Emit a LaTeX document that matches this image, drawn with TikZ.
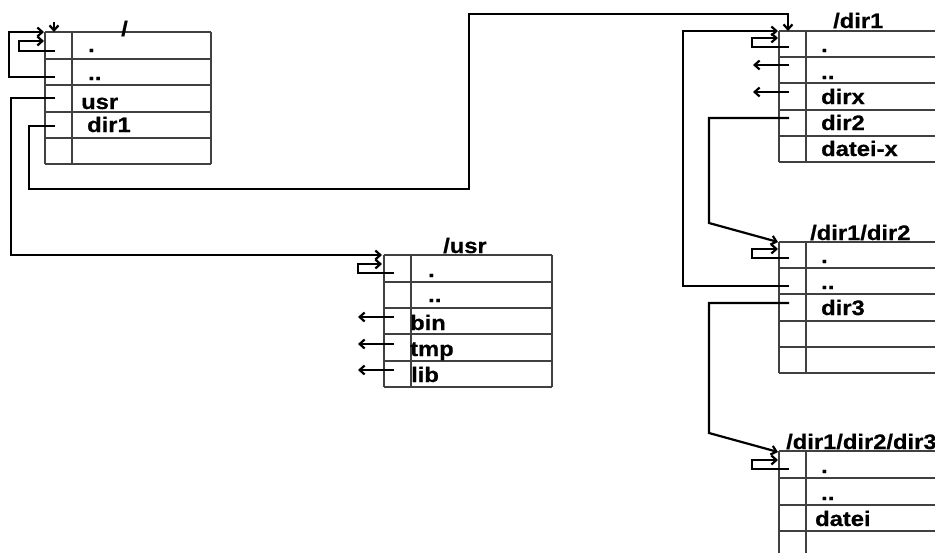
\documentclass[tikz,border=0pt]{standalone}
\usepackage{fontspec}
\setmainfont[BoldFeatures={FakeBold=0.6}]{Liberation Sans}
\usetikzlibrary{arrows.meta}
% horizontally widened label text
\newcommand{\widelabel}[1]{\scalebox{1.13}[1]{#1}}
% directory table: left, column, right, top, bottom, row lines
\newcommand{\dirtable}[6]{%
  \foreach \yy in {#6} {\draw[grid] (#1,\yy) -- (#3,\yy);}
  \draw[grid] (#1,#4) -- (#1,#5);
  \draw[grid] (#2,#4) -- (#2,#5);
  \draw[grid] (#3,#4) -- (#3,#5);
}
\begin{document}
\begin{tikzpicture}[x=1pt,y=-1pt,
  grid/.style={draw=black!75, line width=1.1pt},
  link/.style={draw=black, line width=2.2pt, line join=miter},
  ptr/.style={link, -{Straight Barb[length=5pt,width=9pt,line width=2.2pt]}},
  lbl/.style={font=\bfseries\fontsize{21}{22}\selectfont, inner sep=0pt, anchor=base west},
]
\useasboundingbox (0,0) rectangle (935,552);
\clip (0,0) rectangle (935,552);

% ---------- tables ----------
\dirtable{45}{72}{211}{32}{164}{32,59,85,112,138,164}
\dirtable{384}{411}{552}{255}{387}{255,282,308,334,361,387}
\dirtable{779}{806}{945}{31}{162}{31,57,83,110,136,162}
\dirtable{779}{806}{945}{242}{373}{242,268,294,321,347,373}
\dirtable{779}{806}{945}{451}{560}{451,478,505,531,557}

% ---------- labels ----------
% root
\node[lbl] (t-root) at (121,36) {\widelabel{/}};
\node[lbl] (r-dot)  at (88,52)  {\widelabel{.}};
\node[lbl] (r-ddot) at (88,80)  {\widelabel{..}};
\node[lbl] (r-usr)  at (81,109) {\widelabel{usr}};
\node[lbl] (r-dir1) at (87,132) {\widelabel{dir1}};
% /usr
\node[lbl] (t-usr)  at (443,253) {\widelabel{/usr}};
\node[lbl] (u-dot)  at (428,277) {\widelabel{.}};
\node[lbl] (u-ddot) at (428,302) {\widelabel{..}};
\node[lbl] (u-bin)  at (410,330) {\widelabel{bin}};
\node[lbl] (u-tmp)  at (410,356) {\widelabel{tmp}};
\node[lbl] (u-lib)  at (411,382) {\widelabel{lib}};
% /dir1
\node[lbl] (t-d1)    at (833,28)  {\widelabel{/dir1}};
\node[lbl] (a-dot)   at (821,52)  {\widelabel{.}};
\node[lbl] (a-ddot)  at (821,79)  {\widelabel{..}};
\node[lbl] (a-dirx)  at (821,104) {\widelabel{dirx}};
\node[lbl] (a-dir2)  at (821,130) {\widelabel{dir2}};
\node[lbl] (a-datei) at (821,156) {\widelabel{datei-x}};
% /dir1/dir2
\node[lbl] (t-d2)    at (810,240) {\widelabel{/dir1/dir2}};
\node[lbl] (b-dot)   at (821,263) {\widelabel{.}};
\node[lbl] (b-ddot)  at (821,289) {\widelabel{..}};
\node[lbl] (b-dir3)  at (821,315) {\widelabel{dir3}};
% /dir1/dir2/dir3
\node[lbl] (t-d3)    at (786,449) {\widelabel{/dir1/dir2/dir3}};
\node[lbl] (c-dot)   at (821,473) {\widelabel{.}};
\node[lbl] (c-ddot)  at (821,500) {\widelabel{..}};
\node[lbl] (c-datei) at (815,526) {\widelabel{datei}};

% ---------- pointer origins and targets ----------
\coordinate (r-in)   at (54,22);
\coordinate (r-top)  at (54,32);
\coordinate (r-p1)   at (55,51);
\coordinate (r-p2)   at (55,77);
\coordinate (r-p3)   at (55,98);
\coordinate (r-p4)   at (55,126);
\coordinate (u-top)  at (382,255);
\coordinate (u-p1)   at (394,273);
\coordinate (u-p3)   at (394,317);
\coordinate (u-p4)   at (394,344);
\coordinate (u-p5)   at (394,370);
\coordinate (a-top)  at (788,31);
\coordinate (a-side) at (778,31);
\coordinate (a-p1)   at (789,47);
\coordinate (a-p2)   at (789,65);
\coordinate (a-p3)   at (789,92);
\coordinate (a-p4)   at (789,118);
\coordinate (b-top)  at (778,242);
\coordinate (b-p1)   at (789,258);
\coordinate (b-p2)   at (789,286);
\coordinate (b-p3)   at (789,303);
\coordinate (c-top)  at (778,452);
\coordinate (c-p1)   at (789,469);

% ---------- pointers ----------
% root
\draw[ptr] (r-in) -- (r-top);
\draw[ptr] (r-p1) -- (19,51) -- (19,41) -- (44,41);
\draw[ptr] (r-p2) -- (9,77) -- (9,32) -- (44,32);
\draw[ptr] (r-p3) -- (11,98) -- (11,255) -- (u-top);
\draw[ptr] (r-p4) -- (29,126) -- (29,189) -- (469,189) -- (469,14) -- (788,14) -- (a-top);
% /usr
\draw[ptr] (u-p1) -- (358,273) -- (358,264) -- (382,264);
\draw[ptr] (u-p3) -- (358,317);
\draw[ptr] (u-p4) -- (358,344);
\draw[ptr] (u-p5) -- (358,370);
% /dir1
\draw[ptr] (a-p1) -- (752,47) -- (752,38) -- (778,38);
\draw[ptr] (a-p2) -- (753,65);
\draw[ptr] (a-p3) -- (753,92);
\draw[ptr] (a-p4) -- (709,118) -- (709,223) -- (b-top);
% /dir1/dir2
\draw[ptr] (b-p1) -- (752,258) -- (752,249) -- (778,249);
\draw[ptr] (b-p2) -- (683,286) -- (683,31) -- (a-side);
\draw[ptr] (b-p3) -- (709,303) -- (709,433) -- (c-top);
% /dir1/dir2/dir3
\draw[ptr] (c-p1) -- (752,469) -- (752,460) -- (778,460);
\end{tikzpicture}
\end{document}
